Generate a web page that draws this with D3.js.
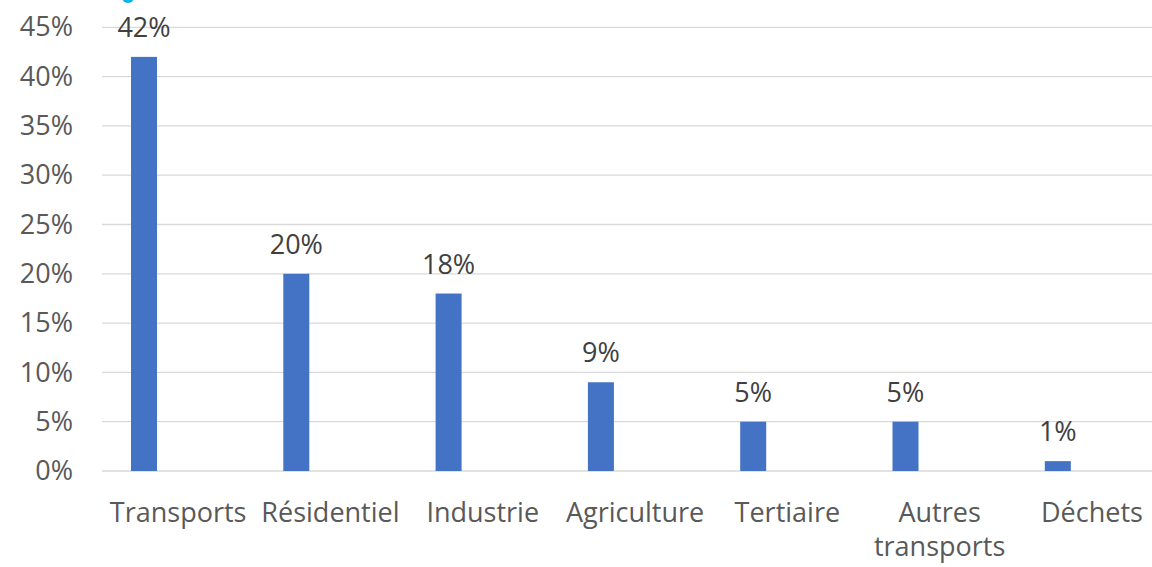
<!DOCTYPE html>
<html><head><meta charset="utf-8">
<script src="https://cdn.jsdelivr.net/npm/d3@7"></script>
<style>
html,body{margin:0;padding:0;background:#fff;}
svg{display:block;}
text{font-family:"Open Sans","Noto Sans",sans-serif;}
</style></head>
<body>
<svg id="chart" width="1152" height="567"></svg>
<script>
const categories = ["Transports","Résidentiel","Industrie","Agriculture","Tertiaire","Autres transports","Déchets"];
const values = [42,20,18,9,5,5,1];
const yTicks = [0,5,10,15,20,25,30,35,40,45];

const W = 1152, H = 567;
const FS = "27px";
const svg = d3.select("#chart");
const left = 102, bandW = 152.3;
const x = d3.scaleBand().domain(categories).range([left, left + bandW*categories.length]).paddingInner(0).paddingOuter(0);
const y = d3.scaleLinear().domain([0,45]).range([471, 27.3]);

// gridlines
svg.append("g").selectAll("line").data(yTicks).join("line")
  .attr("x1", left).attr("x2", W)
  .attr("y1", d=>y(d)).attr("y2", d=>y(d))
  .attr("stroke", "#d9d9d9").attr("stroke-width", 1.3);

// y axis labels
const yAxis = d3.axisLeft(y).tickValues(yTicks).tickFormat(d=>d+"%").tickSize(0).tickPadding(0);
const ya = svg.append("g").attr("transform", `translate(73,0)`).call(yAxis);
ya.select(".domain").remove();
ya.selectAll("text").attr("fill","#595959").style("font-size",FS).style("font-family","'Open Sans','Noto Sans',sans-serif");

// bars
const barOff = 29, barW = 26;
svg.append("g").selectAll("rect").data(values).join("rect")
  .attr("x", (d,i)=>x(categories[i]) + barOff)
  .attr("width", barW)
  .attr("y", d=>y(d))
  .attr("height", d=>y(0)-y(d))
  .attr("fill", "#4472c4");

// data labels
svg.append("g").selectAll("text").data(values).join("text")
  .attr("x", (d,i)=>x(categories[i]) + barOff + barW/2)
  .attr("y", d=>y(d) - 20)
  .attr("text-anchor","middle")
  .attr("fill","#404040")
  .style("font-size",FS)
  .text(d=>d+"%");

// x labels
const wrapMap = {"Autres transports":["Autres","transports"]};
const xl = svg.append("g");
categories.forEach(c=>{
  const lines = wrapMap[c] || [c];
  const t = xl.append("text")
    .attr("x", x(c) + x.bandwidth()/2)
    .attr("y", 522)
    .attr("text-anchor","middle")
    .attr("fill","#595959")
    .style("font-size",FS);
  lines.forEach((l,i)=>{
    t.append("tspan").attr("x", x(c) + x.bandwidth()/2).attr("dy", i===0?0:34).text(l);
  });
});

// decorative cyan mark at top (cropped)
svg.append("circle").attr("cx",128).attr("cy",-3).attr("r",6).attr("fill","#00b0f0");
</script>
</body></html>
